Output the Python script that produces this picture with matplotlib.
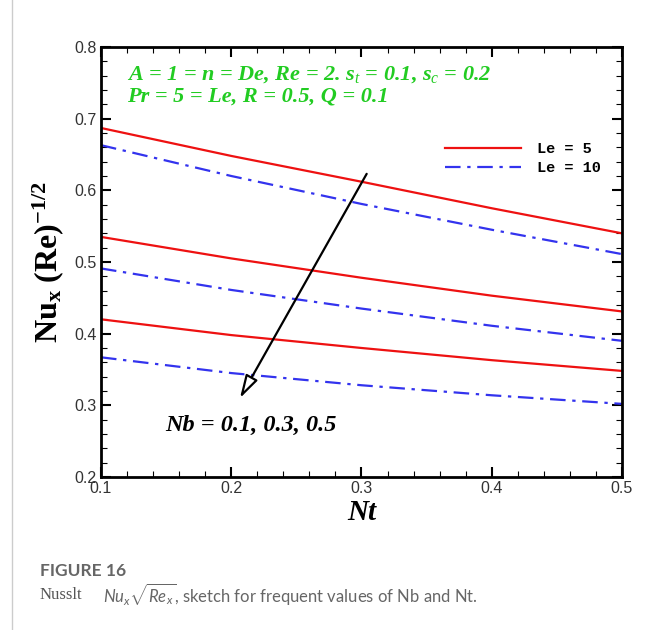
import matplotlib
matplotlib.use("Agg")
import matplotlib.pyplot as plt
from matplotlib.ticker import MultipleLocator
from matplotlib.lines import Line2D

plt.rcParams['mathtext.fontset'] = 'custom'
plt.rcParams['mathtext.rm'] = 'Liberation Serif'
plt.rcParams['mathtext.bf'] = 'Liberation Serif:bold'
plt.rcParams['mathtext.it'] = 'Liberation Serif:italic'
plt.rcParams['mathtext.sf'] = 'Lato:italic'

nt = [0.1, 0.2, 0.3, 0.4, 0.5]
le5_nb01 = [0.687, 0.648, 0.612, 0.575, 0.540]
le10_nb01 = [0.663, 0.620, 0.581, 0.545, 0.511]
le5_nb03 = [0.535, 0.505, 0.478, 0.453, 0.431]
le10_nb03 = [0.491, 0.461, 0.435, 0.411, 0.390]
le5_nb05 = [0.420, 0.398, 0.380, 0.363, 0.348]
le10_nb05 = [0.367, 0.345, 0.328, 0.314, 0.302]
xticks = [0.1, 0.2, 0.3, 0.4, 0.5]
xticklabels = ['0.1', '0.2', '0.3', '0.4', '0.5']
yticks = [0.2, 0.3, 0.4, 0.5, 0.6, 0.7, 0.8]
yticklabels = ['0.2', '0.3', '0.4', '0.5', '0.6', '0.7', '0.8']

fig = plt.figure(figsize=(6.54, 6.30), dpi=100)
ax = fig.add_axes([0.1544, 0.2429, 0.7966, 0.6825])

red = '#ee1111'
blue = '#3333ee'
dashdot = (0, (7, 3, 1.5, 3))
for y in [le5_nb01, le5_nb03, le5_nb05]:
    ax.plot(nt, y, color=red, lw=1.6)
for y in [le10_nb01, le10_nb03, le10_nb05]:
    ax.plot(nt, y, color=blue, lw=1.6, linestyle=dashdot)

ax.set_xlim(0.1, 0.5)
ax.set_ylim(0.2, 0.8)
ax.set_xticks(xticks, xticklabels, fontfamily='Liberation Sans', color='#333333')
ax.set_yticks(yticks, yticklabels, fontfamily='Liberation Sans', color='#333333')
ax.xaxis.set_minor_locator(MultipleLocator(0.02))
ax.yaxis.set_minor_locator(MultipleLocator(0.02))
ax.tick_params(which='both', direction='in', top=True, right=True)
ax.tick_params(which='major', length=7, width=1.5, labelsize=11.5, pad=3)
ax.tick_params(which='minor', length=4, width=0.8)
for s in ax.spines.values():
    s.set_linewidth(2)

ax.set_xlabel('Nt', fontfamily='Liberation Serif', fontweight='bold', fontstyle='italic', fontsize=21, labelpad=2)
ax.set_ylabel(r'$\mathbf{Nu_x\ (Re)^{-1/2}}$', fontsize=23, labelpad=6)

green = '#22cc22'
ax.text(0.05, 0.935, r'A = 1 = n = De, Re = 2. s$_t$ = 0.1, s$_c$ = 0.2', transform=ax.transAxes,
        color=green, fontfamily='Liberation Serif', fontweight='bold', fontstyle='italic', fontsize=16, va='center')
ax.text(0.05, 0.885, 'Pr = 5 = Le, R = 0.5, Q = 0.1', transform=ax.transAxes,
        color=green, fontfamily='Liberation Serif', fontweight='bold', fontstyle='italic', fontsize=16, va='center')

ax.annotate('', xy=(0.2067, 0.310), xytext=(0.304, 0.623),
            arrowprops=dict(arrowstyle='-|>,head_length=1.4,head_width=0.4', lw=1.6, color='black', fc='white',
                            shrinkA=0, shrinkB=0))
ax.text(0.149, 0.2725, 'Nb = 0.1, 0.3, 0.5', color='black', fontfamily='Liberation Serif',
        fontweight='bold', fontstyle='italic', fontsize=17.5, va='center')

handles = [Line2D([], [], color=red, lw=1.6), Line2D([], [], color=blue, lw=1.6, linestyle=dashdot)]
leg = ax.legend(handles, ['Le = 5', 'Le = 10'], loc='upper right', bbox_to_anchor=(0.985, 0.81), frameon=False,
                prop={'family': 'Liberation Mono', 'weight': 'bold', 'size': 11}, handlelength=5.0,
                handletextpad=1.0, labelspacing=0.3)

fig.add_artist(Line2D([0.019, 0.019], [0.0, 1.0], color='#cccccc', lw=1, transform=fig.transFigure))
fig.text(0.061, 0.093, 'FIGURE 16', fontfamily='Lato', fontweight='bold', fontsize=12.5, color='#666666', va='center')
fig.text(0.061, 0.055, 'Nusslt', fontfamily='Liberation Serif', fontsize=12, color='#555555', va='center')
fig.text(0.158, 0.055, r'$\mathsf{Nu_x}\sqrt{\mathsf{Re_x}}$, sketch for frequent values of Nb and Nt.',
         fontfamily='Lato', fontsize=12, color='#666666', va='center')

fig.savefig('out.png', dpi=100)
